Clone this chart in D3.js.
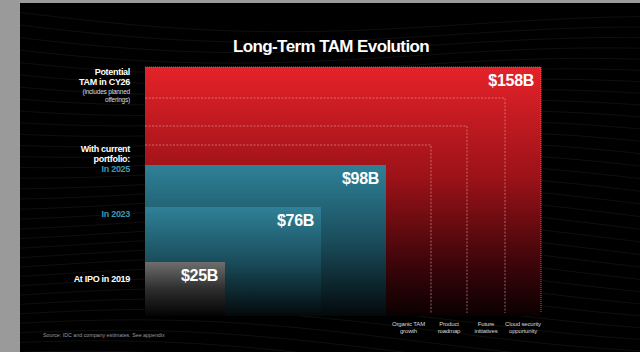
<!DOCTYPE html>
<html>
<head>
<meta charset="utf-8">
<script src="https://cdn.jsdelivr.net/npm/d3@7"></script>
<style>
  html, body { margin: 0; padding: 0; background: #9a9a9a; }
  svg { display: block; font-family: "Liberation Sans", Arial, sans-serif; }
</style>
</head>
<body>
<div id="chart"></div>
<script>
// TAM data
const stages = ["At IPO in 2019", "In 2023", "In 2025"];
const stageValues = [25, 76, 98];
const potentialValue = 158;
const drivers = ["Organic TAM growth", "Product roadmap", "Future initiatives", "Cloud security opportunity"];
const stageColors = ["gray", "teal", "teal"];

const width = 640, height = 352;

const svg = d3.select("#chart").append("svg")
    .attr("width", width)
    .attr("height", height);

// slide frame
svg.append("rect").attr("width", width).attr("height", height).attr("fill", "#9a9a9a");
svg.append("rect").attr("x", 20).attr("y", 3).attr("width", width - 20).attr("height", height - 3).attr("fill", "#000");

// faint wavy texture in the background
const waves = svg.append("g");
const waveLine = d3.line().curve(d3.curveBasis);
for (let k = 0; k < 34; k++) {
    const base = 10 + k * 11;
    const pts = d3.range(20, 641, 20).map(x => [x, base + 14 * Math.sin(x / 150 + k * 0.12) + x * 0.03]);
    waves.append("path")
        .attr("d", waveLine(pts))
        .attr("fill", "none")
        .attr("stroke", "#131313")
        .attr("stroke-width", 0.8);
}

// layout scales (the original graphic is illustrative, not to scale)
const nSteps = stages.length + drivers.length;            // 7 nested outlines
const x0 = 145, bottom = 316, lineEnd = 313;
const xEdge = d3.scaleLinear().domain(d3.range(nSteps)).range([225, 321, 386, 431, 467, 505, 541]);
const yTop = d3.scaleLinear().domain(d3.range(nSteps)).range([262, 207, 165, 145, 126, 98, 67]);

const defs = svg.append("defs");
function grad(id, y1, stops) {
    const g = defs.append("linearGradient").attr("id", id)
        .attr("gradientUnits", "userSpaceOnUse")
        .attr("x1", 0).attr("x2", 0).attr("y1", y1).attr("y2", bottom);
    stops.forEach(s => g.append("stop").attr("offset", s[0]).attr("stop-color", s[1]));
}
const last = nSteps - 1;
grad("g-red", yTop(last), [[0, "#e52229"], [0.45, "#9a1218"], [0.8, "#3a0509"], [1, "#0a0001"]]);
stages.forEach((s, i) => {
    if (stageColors[i] === "gray") {
        grad("g-" + i, yTop(i), [[0, "#6e6e6e"], [0.5, "#2e2e2e"], [1, "#030303"]]);
    } else {
        grad("g-" + i, yTop(i), [[0, "#2f8198"], [0.5, "#1a4d5c"], [1, "#03090b"]]);
    }
});

// potential TAM box
svg.append("rect")
    .attr("x", x0).attr("y", yTop(last))
    .attr("width", xEdge(last) - x0).attr("height", bottom - yTop(last))
    .attr("fill", "url(#g-red)");

// driver outlines (dashed)
const outlines = svg.append("g").attr("fill", "none");
drivers.forEach((d, j) => {
    const i = stages.length + j;
    const isOuter = i === last;
    outlines.append("path")
        .attr("d", `M${x0},${yTop(i)}H${xEdge(i)}V${lineEnd}`)
        .attr("stroke", isOuter ? "#9a9a9a" : "#e7a3a3")
        .attr("stroke-opacity", isOuter ? 0.9 : 0.75)
        .attr("stroke-width", 0.8)
        .attr("stroke-dasharray", isOuter ? "1,1" : "2,1.5");
});

// stage boxes, largest first
const stageIdx = d3.range(stages.length).reverse();
svg.append("g").selectAll("rect")
    .data(stageIdx)
    .join("rect")
    .attr("x", x0)
    .attr("y", i => yTop(i))
    .attr("width", i => xEdge(i) - x0)
    .attr("height", i => bottom - yTop(i))
    .attr("fill", i => `url(#g-${i})`);

// value labels
const fmt = v => `$${v}B`;
const valueLabels = stageValues.map((v, i) => ({ i, v })).concat([{ i: last, v: potentialValue }]);
svg.append("g").selectAll("text")
    .data(valueLabels)
    .join("text")
    .attr("x", d => xEdge(d.i) - 7)
    .attr("y", d => yTop(d.i) + 19)
    .attr("text-anchor", "end")
    .attr("fill", "#fff")
    .attr("font-weight", "bold")
    .attr("font-size", 16)
    .attr("letter-spacing", -0.3)
    .text(d => fmt(d.v));

// title
svg.append("text")
    .attr("x", 331).attr("y", 52)
    .attr("text-anchor", "middle")
    .attr("fill", "#fff")
    .attr("font-weight", "bold")
    .attr("font-size", 17)
    .attr("letter-spacing", -0.6)
    .text("Long-Term TAM Evolution");

// left row labels
const lx = 130;
const leftLabels = [
    { t: "Potential", y: 75, bold: true, c: "#fff" },
    { t: "TAM in CY26", y: 85, bold: true, c: "#fff" },
    { t: "(includes planned", y: 94, bold: false, c: "#ddd" },
    { t: "offerings)", y: 102, bold: false, c: "#ddd" },
    { t: "With current", y: 152, bold: true, c: "#fff" },
    { t: "portfolio:", y: 162, bold: true, c: "#fff" },
    { t: stages[2], y: 172, bold: true, c: "#3c97b3" },
    { t: stages[1], y: 217, bold: true, c: "#3c97b3" },
    { t: stages[0], y: 282, bold: true, c: "#fff" }
];
svg.append("g").selectAll("text")
    .data(leftLabels)
    .join("text")
    .attr("x", lx)
    .attr("y", d => d.y)
    .attr("text-anchor", "end")
    .attr("fill", d => d.c)
    .attr("font-weight", d => d.bold ? "bold" : "normal")
    .attr("font-size", d => d.bold ? 9 : 6.5)
    .attr("letter-spacing", d => d.bold ? -0.3 : -0.2)
    .text(d => d.t);

// driver labels under the chart
const driverLines = [["Organic TAM", "growth"], ["Product", "roadmap"], ["Future", "initiatives"], ["Cloud security", "opportunity"]];
const dl = svg.append("g").attr("fill", "#d8d8d8").attr("font-size", 6).attr("text-anchor", "middle");
drivers.forEach((d, j) => {
    const i = stages.length + j;
    const cx = (xEdge(i - 1) + xEdge(i)) / 2;
    driverLines[j].forEach((t, k) => {
        dl.append("text").attr("x", cx).attr("y", 326 + k * 7).attr("letter-spacing", -0.15).text(t);
    });
});

// source
svg.append("text")
    .attr("x", 43).attr("y", 337)
    .attr("fill", "#9a9a9a")
    .attr("font-size", 5.3)
    .text("Source: IDC and company estimates. See appendix");
</script>
</body>
</html>
